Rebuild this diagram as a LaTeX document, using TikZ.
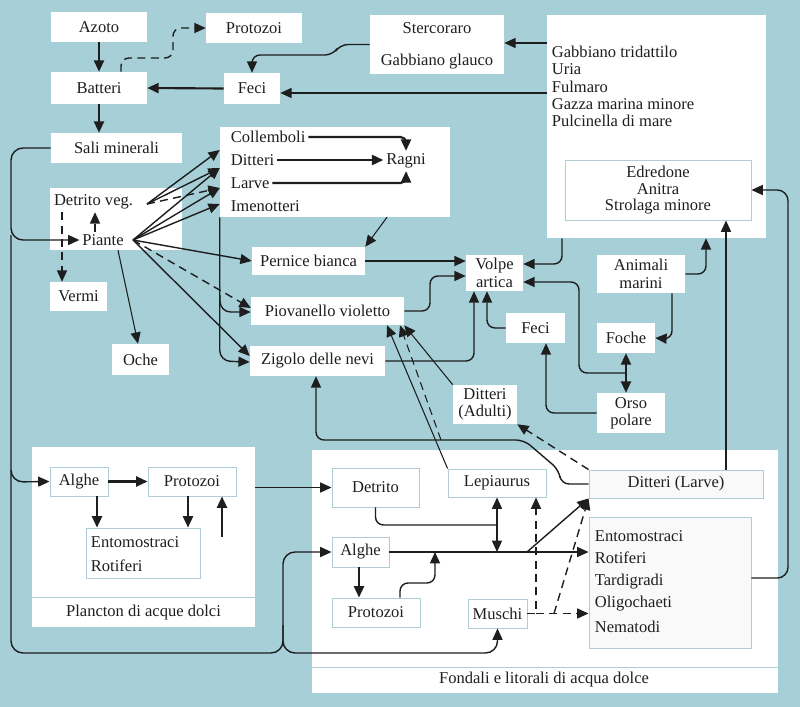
\documentclass[tikz,border=0pt]{standalone}
\usepackage{fontspec}
\setmainfont{Liberation Serif}
\usetikzlibrary{arrows.meta,calc}
\definecolor{bg}{RGB}{166,207,216}
\definecolor{bd}{RGB}{176,204,213}
\definecolor{ink}{RGB}{30,30,30}
\newlength\px
\setlength\px{0.75pt}
\tikzset{
  box/.style={fill=white,inner sep=0pt,align=center},
  ibox/.style={fill=white,draw=bd,line width=0.7pt,inner sep=0pt,align=center},
  lbl/.style={inner sep=2pt},
  ln/.style={draw=ink,line width=1.05pt},
  thk/.style={draw=ink,line width=1.6pt},
  thn/.style={draw=ink,line width=0.8pt},
  arr/.style={-{Triangle[length=8.5pt,width=7.5pt]}},
  darr/.style={{Triangle[length=8.5pt,width=7.5pt]}-{Triangle[length=8.5pt,width=7.5pt]}},
  dsh/.style={dash pattern=on 6pt off 4pt},
  rc/.style={rounded corners=6pt}
}
\begin{document}
\begin{tikzpicture}[x=0.75pt,y=-0.75pt,
  font=\fontsize{12.4}{13}\selectfont, text=ink]
\fill[bg] (0,0) rectangle (800,707);
\useasboundingbox (0,0) rectangle (800,707);
% ---------- containers ----------
\node[box,minimum width=219*\px,minimum height=223*\px] (bigbox) at (656.5,126.5) {};
\node[box,minimum width=230*\px,minimum height=90*\px] (cbox) at (335,172) {};
\node[box,minimum width=132*\px,minimum height=62*\px] (pbox) at (116,219) {};
\node[box,minimum width=134*\px,minimum height=59*\px] (sterc) at (437,44.5) {};
\node[box,minimum width=223*\px,minimum height=180*\px] (planc) at (143.5,537) {};
\node[box,minimum width=466*\px,minimum height=243*\px] (fond) at (545,571.5) {};
\draw[bd,line width=0.7pt] (planc.west |- 0,597) -- (planc.east |- 0,597);
\draw[bd,line width=0.7pt] (fond.west |- 0,667) -- (fond.east |- 0,667);
% ---------- top nodes ----------
\node[box,minimum width=96*\px,minimum height=30*\px] (azoto) at (99,27) {Azoto};
\node[box,minimum width=96*\px,minimum height=30*\px] (protA) at (254,28) {Protozoi};
\node[lbl] (sterc1) at (437,28) {Stercoraro};
\node[lbl] (sterc2) at (437,62) {Gabbiano glauco};
\node[lbl,anchor=west] (gt) at (549,52) {Gabbiano tridattilo};
\node[lbl,anchor=west] (uria) at (549,69) {Uria};
\node[lbl,anchor=west] (fulm) at (549,87) {Fulmaro};
\node[lbl,anchor=west] (gazza) at (549,104) {Gazza marina minore};
\node[lbl,anchor=west] (pulc) at (549,121) {Pulcinella di mare};
\node[ibox,minimum width=186*\px,minimum height=60*\px] (edbox) at (658,190) {};
\node[lbl] (edr) at (658,172) {Edredone};
\node[lbl] (anitra) at (658,189) {Anitra};
\node[lbl] (strol) at (658,207) {Strolaga minore};
\node[box,minimum width=96*\px,minimum height=32*\px] (batteri) at (99,88) {Batteri};
\node[box,minimum width=56*\px,minimum height=31*\px] (feciA) at (252,88.5) {Feci};
\node[box,minimum width=131*\px,minimum height=30*\px] (sali) at (116.5,148) {Sali minerali};
\node[lbl,anchor=west] (coll) at (228,137) {Collemboli};
\node[lbl,anchor=west] (ditt) at (228,160) {Ditteri};
\node[lbl,anchor=west] (larv) at (228,183) {Larve};
\node[lbl,anchor=west] (imen) at (228,206) {Imenotteri};
\node[lbl] (ragni) at (406,161) {Ragni};
\node[lbl] (detveg) at (93.5,202) {Detrito veg.};
\node[lbl] (piante) at (103,240) {Piante};
\node[box,minimum width=57*\px,minimum height=29*\px] (vermi) at (78.5,296.5) {Vermi};
\node[box,minimum width=57*\px,minimum height=31*\px] (oche) at (140.5,359.5) {Oche};
\node[box,minimum width=113*\px,minimum height=28*\px] (pernice) at (308.5,261) {Pernice bianca};
\node[box,minimum width=153*\px,minimum height=28*\px] (piov) at (327.5,311) {Piovanello violetto};
\node[box,minimum width=135*\px,minimum height=30*\px] (zigolo) at (317.5,361) {Zigolo delle nevi};
\node[box,minimum width=57*\px,minimum height=36*\px] (volpe) at (494.5,273) {Volpe\\artica};
\node[box,minimum width=88*\px,minimum height=38*\px] (animali) at (641,274) {Animali\\marini};
\node[box,minimum width=59*\px,minimum height=30*\px] (feciB) at (535.5,328) {Feci};
\node[box,minimum width=58*\px,minimum height=30*\px] (foche) at (626,338) {Foche};
\node[box,minimum width=68*\px,minimum height=40*\px] (orso) at (631,413) {Orso\\polare};
\node[box,minimum width=64*\px,minimum height=39*\px] (dittA) at (485,404.5) {Ditteri\\(Adulti)};
% ---------- plancton ----------
\node[lbl] (plancl) at (143.5,613) {Plancton di acque dolci};
\node[ibox,minimum width=58*\px,minimum height=29*\px] (algP) at (79,481.5) {Alghe};
\node[ibox,minimum width=88*\px,minimum height=29*\px] (protP) at (192,481.5) {Protozoi};
\node[ibox,minimum width=114*\px,minimum height=50*\px] (entP) at (143,553) {};
\node[lbl,anchor=west] (entP1) at (88,542) {Entomostraci};
\node[lbl,anchor=west] (entP2) at (88,566) {Rotiferi};
% ---------- fondali ----------
\node[lbl] (fondl) at (544,680) {Fondali e litorali di acqua dolce};
\node[ibox,minimum width=87*\px,minimum height=39*\px] (detF) at (375.5,487.5) {Detrito};
\node[ibox,minimum width=98*\px,minimum height=28*\px] (lepi) at (497,483) {Lepiaurus};
\node[ibox,fill=gray!5,minimum width=174*\px,minimum height=28*\px] (dittL) at (676,484) {Ditteri (Larve)};
\node[ibox,minimum width=57*\px,minimum height=30*\px] (algF) at (360.5,552) {Alghe};
\node[ibox,minimum width=88*\px,minimum height=29*\px] (protF) at (376,612.5) {Protozoi};
\node[ibox,minimum width=59*\px,minimum height=29*\px] (musc) at (497.5,613.5) {Muschi};
\node[ibox,fill=gray!5,minimum width=162*\px,minimum height=131*\px] (entF) at (670,582.5) {};
\node[lbl,anchor=west] (entF1) at (592,536) {Entomostraci};
\node[lbl,anchor=west] (entF2) at (592,558) {Rotiferi};
\node[lbl,anchor=west] (entF3) at (592,582) {Tardigradi};
\node[lbl,anchor=west] (entF4) at (592,604) {Oligochaeti};
\node[lbl,anchor=west] (entF5) at (592,627) {Nematodi};
% ---------- connectors: top ----------
\draw[thk,arr] (azoto) -- (batteri);
\draw[thk,arr] (batteri.south) -- (batteri.south |- sali.north);
\draw[ln,dsh,arr,rc] (121,0 |- batteri.north) -- (121,58) -- (173,58) -- (173,28) -- (protA.west);
\draw[ln,arr,rc] (sterc.west) -- (340,44.5) -- (333,55) -- (252,55) -- (feciA.north);
\draw[ln,arr] (bigbox.west |- 0,93) -- (feciA.east |- 0,93);
\draw[ln,arr] (bigbox.west |- 0,43) -- (sterc.east |- 0,43);
\draw[thk,arr] (feciA.west) -- (batteri.east);
% ---------- left trunk ----------
\draw[ln,arr,rounded corners=9pt] (sali.west) -- (11,148) -- (11,240) -- (piante.west);
\draw[ln,arr,rounded corners=9pt] (11,235) -- (11,482) -- (algP.west);
\draw[ln,arr,rounded corners=9pt] (11,470) -- (11,653) -- (283,653) -- (283,552) -- (algF.west);
\draw[ln,arr,rounded corners=9pt] (283,625) -- (283,653) -- (497.5,653) -- (musc.south);
% ---------- plants ----------
\coordinate (dv) at (147,204);
\coordinate (pl) at (133,240);
\draw[ln,dsh,arr] (62,0 |- detveg.south) -- (62,0 |- vermi.north);
\draw[ln,dsh,arr] (95,0 |- piante.north) -- (95,0 |- detveg.south);
\draw[ln,arr] (dv) -- (cbox.west |- 0,150);
\draw[ln,arr] (dv) -- (cbox.west |- 0,168);
\draw[ln,dsh,arr] (dv) -- (cbox.west |- 0,188);
\draw[ln,arr] (pl) -- (cbox.west |- 0,168);
\draw[ln,arr] (pl) -- (cbox.west |- 0,188);
\draw[ln,arr] (pl) -- (cbox.west |- 0,204);
\draw[ln,arr] (pl) -- (pernice.west);
\draw[ln,dsh,arr] (pl) -- ($(piov.west)+(0,-3)$);
\draw[ln,arr] (pl) -- ($(zigolo.west)+(0,-5)$);
\draw[thn,arr] (118,0 |- pbox.south) -- (138,0 |- oche.north);
\draw[ln,arr,rounded corners=8pt] (cbox.south west) -- (cbox.south west |- zigolo.west) -- ($(zigolo.west)+(0,1)$);
\draw[ln,arr,rounded corners=8pt] (220,295) -- (220,312) -- ($(piov.west)+(0,1)$);
% ---------- Ragni ----------
\draw[thk,arr,rounded corners=4pt] (coll.east) -- (ragni.north |- coll.east) -- (ragni.north);
\draw[thk,arr] (ditt.east) -- (ditt.east -| ragni.west);
\draw[thk,arr,rounded corners=4pt] (larv.east) -- (ragni.south |- larv.east) -- (ragni.south);
\draw[thn,arr] (387,0 |- cbox.south) -- (pernice.north east);
% ---------- Volpe ----------
\draw[ln,arr] (pernice.east) -- (pernice.east -| volpe.west);
\draw[ln,arr,rc] (piov.east) -- (430,311) -- (430,276) -- (volpe.west |- 0,276);
\draw[ln,arr,rc] (zigolo.east) -- (474,361) -- (474,0 |- volpe.south);
\draw[ln,arr,rc] (feciB.west) -- (487,328) -- (487,0 |- volpe.south);
\draw[ln,arr,rc] (562,0 |- bigbox.south) -- (562,264) -- (volpe.east |- 0,264);
\coordinate (jo) at (626,373);
\draw[ln,arr,rc] (jo) -- (579,373) -- (579,282) -- (volpe.east |- 0,282);
\draw[thk,darr] (foche.south) -- (foche.south |- orso.north);
\draw[ln,arr,rc] (orso.west) -- (546,413) -- (546,0 |- feciB.south);
\draw[ln,arr,rc] (672,0 |- animali.south) -- (672,339) -- (foche.east);
\draw[ln,arr,rc] (animali.east) -- (706,274) -- (706,0 |- bigbox.south);
\draw[ln,arr] (726,0 |- dittL.north) -- (726,0 |- edbox.south);
\draw[ln,arr,rounded corners=8pt] (entF.east |- 0,578) -- (788,578) -- (788,190) -- (edbox.east);
% ---------- Ditteri ----------
\draw[ln,arr,rc] (dittL.west) -- (561,484) -- (559,470) -- (524,440) -- (316,440) -- (316,0 |- zigolo.south);
\draw[ln,dsh,arr] (dittL.north west) -- (dittA.south east);
\coordinate (jd) at (441,440);
\draw[thn,arr] (lepi.north west) -- (387,0 |- piov.south);
\draw[thn,dsh,arr] (jd) -- (400,0 |- piov.south);
\draw[thn,arr] (dittA.north west) -- (piov.south east);
% ---------- fondali connectors ----------
\draw[ln,rc] (detF.south) -- (375.5,525) -- (497,525);
\draw[ln,darr] (lepi.south) -- (497,552);
\draw[ln,arr] (algF.east) -- (algF.east -| entF.west);
\draw[ln,arr] (527,552) -- (dittL.south west);
\draw[ln,arr,rc] (400,0 |- protF.north) -- (400,583) -- (435,583) -- (435,552);
\draw[thk,arr] (359,0 |- algF.south) -- (359,0 |- protF.north);
\draw[ln,dsh,arr] (musc.east) -- (536,613.5) -- (536,0 |- lepi.south);
\draw[ln,dsh,arr] (536,613.5) -- (entF.west |- 0,613.5);
\draw[ln,dsh,arr] (554,613.5) -- (dittL.south west);
% ---------- plancton connectors ----------
\draw[ln,arr] (planc.east |- detF.west) -- (detF.west);
\draw[thk,arr] (algP.east) -- (protP.west);
\draw[thk,arr] (97,0 |- algP.south) -- (97,0 |- entP.north);
\draw[thk,arr] (188,0 |- protP.south) -- (188,0 |- entP.north);
\draw[thk,arr] (222,537) -- (222,0 |- protP.south);
\end{tikzpicture}
\end{document}
